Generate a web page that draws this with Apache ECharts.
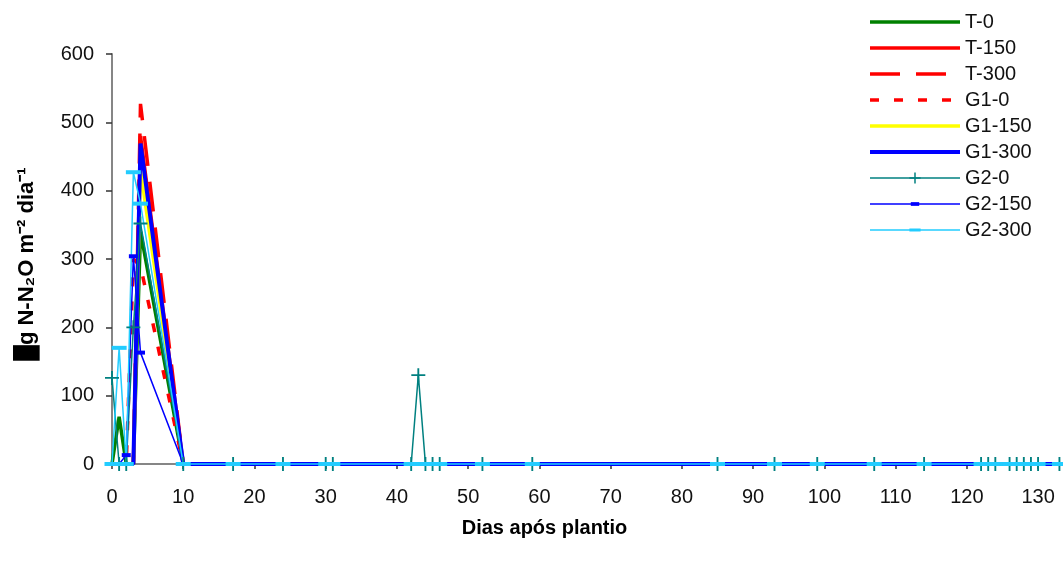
<!DOCTYPE html>
<html>
<head>
<meta charset="utf-8">
<script src="https://cdn.jsdelivr.net/npm/echarts@6/dist/echarts.min.js"></script>
<style>html,body{margin:0;padding:0;background:#fff;}#c{width:1063px;height:567px;}</style>
</head>
<body>
<div id="c"></div>
<script>
// Sampling days (x)
const days = [0,1,2,3,4,10,17,24,30,31,42,43,44,45,46,52,59,85,93,99,107,114,122,123,124,126,127,128,129,130,133];
// Series values (µg N-N2O m-2 dia-1)
const T0    = [0,69,0,0,340,0, 0,0,0,0,0,0,0,0,0,0,0,0,0,0,0,0,0,0,0,0,0,0,0,0,0];
const T150  = [0,0,0,0,480,0, 0,0,0,0,0,0,0,0,0,0,0,0,0,0,0,0,0,0,0,0,0,0,0,0,0];
const T300  = [0,0,0,0,527,0, 0,0,0,0,0,0,0,0,0,0,0,0,0,0,0,0,0,0,0,0,0,0,0,0,0];
const G10   = [0,0,0,300,290,0, 0,0,0,0,0,0,0,0,0,0,0,0,0,0,0,0,0,0,0,0,0,0,0,0,0];
const G1150 = [0,0,0,0,430,0, 0,0,0,0,0,0,0,0,0,0,0,0,0,0,0,0,0,0,0,0,0,0,0,0,0];
const G1300 = [0,0,0,0,469,0, 0,0,0,0,0,0,0,0,0,0,0,0,0,0,0,0,0,0,0,0,0,0,0,0,0];
const G20   = [126,0,0,200,352,0, 0,0,0,0,0,130,0,0,0,0,0,0,0,0,0,0,0,0,0,0,0,0,0,0,0];
const G2150 = [0,0,13,304,163,0, 0,0,0,0,0,0,0,0,0,0,0,0,0,0,0,0,0,0,0,0,0,0,0,0,0];
const G2300 = [0,170,0,427,381,0, 0,0,0,0,0,0,0,0,0,0,0,0,0,0,0,0,0,0,0,0,0,0,0,0,0];
const seriesNames = ['T-0','T-150','T-300','G1-0','G1-150','G1-300','G2-0','G2-150','G2-300'];
const xTicks = [0,10,20,30,40,50,60,70,80,90,100,110,120,130];
const yTicks = [0,100,200,300,400,500,600];

const pair = v => days.map((d,i)=>[d,v[i]]);
// marker shapes (square bounding boxes so the legend keeps their proportions)
const plus = 'path://M6.5,0 H8.5 V6.5 H15 V8.5 H8.5 V15 H6.5 V8.5 H0 V6.5 H6.5 Z';
const dashShort = 'path://M0,0 M12,12 M1.5,4 H10.5 V8 H1.5 Z';
const dashLong = 'path://M0,0 M15,15 M0,5.5 H15 V9.5 H0 Z';
const FONT = 'Liberation Sans';

const styles = {
  'T-0':    {color:'#008000', width:3.5},
  'T-150':  {color:'#ff0000', width:3.5},
  'T-300':  {color:'#ff0000', width:3.5, type:[30,16]},
  'G1-0':   {color:'#ff0000', width:3.5, type:[9,15]},
  'G1-150': {color:'#ffff00', width:3.5},
  'G1-300': {color:'#0000ff', width:4},
  'G2-0':   {color:'#008080', width:1.5, symbol:plus, size:14},
  'G2-150': {color:'#0000ff', width:1.5, symbol:dashShort, size:12},
  'G2-300': {color:'#22ccff', width:1.5, symbol:dashLong, size:15}
};
const values = {'T-0':T0,'T-150':T150,'T-300':T300,'G1-0':G10,'G1-150':G1150,'G1-300':G1300,'G2-0':G20,'G2-150':G2150,'G2-300':G2300};

const series = seriesNames.map(n => {
  const s = styles[n];
  return {
    name:n, type:'line', data: pair(values[n]), clip:false,
    symbol: s.symbol || 'none', symbolSize: s.size || 0, showSymbol: !!s.symbol,
    itemStyle:{color:s.color, borderWidth:0},
    lineStyle:{color:s.color, width:s.width, type:s.type || 'solid', cap:'butt'},
    emphasis:{disabled:true}, animation:false
  };
});
const legendData = seriesNames.map(n => {
  const s = styles[n];
  return {name:n, lineStyle:{color:s.color, width:s.width, type:s.type || 'solid', cap:'butt'},
    itemStyle:{color:s.color, opacity: s.symbol ? 1 : 0, borderWidth:0}};
});

const chart = echarts.init(document.getElementById('c'), null, {renderer:'canvas'});
chart.setOption({
  animation:false,
  backgroundColor:'#ffffff',
  textStyle:{fontFamily:FONT},
  grid:{left:112, right:0, top:54, bottom:103, containLabel:false},
  legend:{
    orient:'vertical', left:868, top:12, padding:0, itemWidth:90, itemHeight:14, itemGap:6,
    textStyle:{fontFamily:FONT, fontSize:20, color:'#111'},
    data: legendData
  },
  xAxis:{
    type:'value', min:0, max:133.5, interval:10,
    name:'Dias após plantio', nameLocation:'middle', nameGap:54,
    nameTextStyle:{fontFamily:FONT, fontSize:20, fontWeight:'bold', color:'#000', padding:[0,86,0,0]},
    axisLine:{show:true, lineStyle:{color:'#868686', width:2}},
    axisTick:{show:true, length:5, customValues:xTicks, lineStyle:{color:'#333', width:1.5}},
    axisLabel:{customValues:xTicks, margin:23, fontSize:20, color:'#111', fontFamily:FONT},
    splitLine:{show:false}
  },
  yAxis:{
    type:'value', min:0, max:600, interval:100,
    name:'█g N-N₂O m⁻² dia⁻¹', nameLocation:'middle', nameGap:74, nameRotate:90,
    nameTextStyle:{fontFamily:FONT, fontSize:22, fontWeight:'bold', color:'#000', padding:[0,10,0,0]},
    axisLine:{show:true, lineStyle:{color:'#868686', width:2}},
    axisTick:{show:true, length:6, customValues:yTicks, lineStyle:{color:'#333', width:1.5}},
    axisLabel:{customValues:yTicks, margin:18, fontSize:20, color:'#111', fontFamily:FONT},
    splitLine:{show:false}
  },
  series: series
});
</script>
</body>
</html>
